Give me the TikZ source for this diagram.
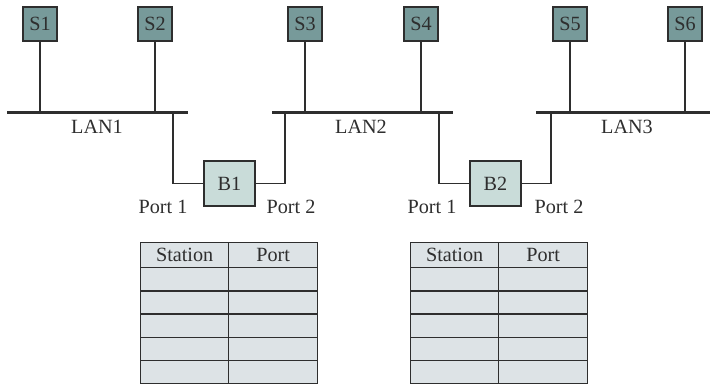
\documentclass[tikz,border=0pt]{standalone}
\usepackage{fontspec}
\setmainfont{Liberation Serif}
\definecolor{stafill}{HTML}{779A9A}
\definecolor{brfill}{HTML}{C9DCD9}
\definecolor{tabfill}{HTML}{DDE3E6}
\definecolor{ink}{HTML}{2E2E2E}
\begin{document}
\begin{tikzpicture}[x=1pt,y=-1pt,
  every node/.style={font=\fontsize{20.2}{23}\selectfont, text=ink},
  station/.style={draw=ink, line width=1.3pt, fill=stafill, minimum width=34pt, minimum height=34pt, inner sep=0pt},
  bridge/.style={draw=ink, line width=1.3pt, fill=brfill, minimum width=51pt, minimum height=45pt, inner sep=0pt},
  lanbar/.style={draw=ink, line width=3pt},
  wire/.style={draw=ink, line width=1.2pt},
  cell/.style={draw=ink, line width=1.3pt, fill=tabfill, inner sep=0pt, anchor=north west},
  lbl/.style={anchor=base, inner sep=0pt}
]
\useasboundingbox (0,0) rectangle (710,384);
% stations
\node[station] (s1) at (40,24) {S1};
\node[station] (s2) at (155,24) {S2};
\node[station] (s3) at (305,24) {S3};
\node[station] (s4) at (421,24) {S4};
\node[station] (s5) at (570,24) {S5};
\node[station] (s6) at (685,24) {S6};
% LAN ends and taps
\coordinate (l1a) at (7,112);   \coordinate (l1b) at (188,112);
\coordinate (l2a) at (272,112); \coordinate (l2b) at (453,112);
\coordinate (l3a) at (536,112); \coordinate (l3b) at (710,112);
\coordinate (t1) at (173,112); \coordinate (t2) at (285,112);
\coordinate (t3) at (439,112); \coordinate (t4) at (551,112);
% bridges
\node[bridge] (b1) at (229.5,183.5) {B1};
\node[bridge] (b2) at (495.5,183.5) {B2};
% station wires
\foreach \s/\l in {s1/l1a,s2/l1a,s3/l2a,s4/l2a,s5/l3a,s6/l3a}
  \draw[wire] (\s.south) -- (\s.south |- \l);
% bridge wires
\draw[wire] (b1.west) -| (t1);
\draw[wire] (b1.east) -| (t2);
\draw[wire] (b2.west) -| (t3);
\draw[wire] (b2.east) -| (t4);
% LAN bars
\draw[lanbar] (l1a) -- (l1b);
\draw[lanbar] (l2a) -- (l2b);
\draw[lanbar] (l3a) -- (l3b);
% labels
\node[lbl] (lan1) at (97,133) {LAN1};
\node[lbl] (lan2) at (361,133) {LAN2};
\node[lbl] (lan3) at (627,133) {LAN3};
\node[lbl] (p11) at (163,213) {Port 1};
\node[lbl] (p12) at (291,213) {Port 2};
\node[lbl] (p21) at (432,213) {Port 1};
\node[lbl] (p22) at (559,213) {Port 2};
% tables
\foreach \t/\x in {1/140,2/410}{
  \node[cell, minimum width=88pt, minimum height=25pt] (t\t h1) at (\x,242) {};
  \node[cell, minimum width=89pt, minimum height=25pt] (t\t h2) at (\x+88,242) {};
  \node (t\t h1txt) at (t\t h1.center) {Station};
  \node (t\t h2txt) at (t\t h2.center) {Port};
  \foreach \r in {1,...,5}{
    \node[cell, minimum width=88pt, minimum height=23.2pt] (t\t r\r a) at (\x,{267+(\r-1)*23.2}) {};
    \node[cell, minimum width=89pt, minimum height=23.2pt] (t\t r\r b) at (\x+88,{267+(\r-1)*23.2}) {};
  }
}
\end{tikzpicture}
\end{document}
